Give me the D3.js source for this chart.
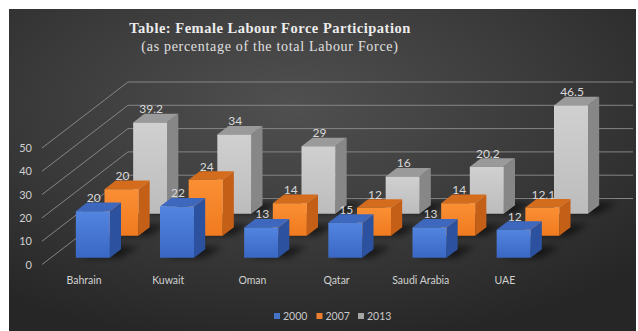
<!DOCTYPE html>
<html><head><meta charset="utf-8">
<script src="https://cdn.jsdelivr.net/npm/d3@7"></script>
<style>html,body{margin:0;padding:0;background:#fff;}svg{display:block;}</style>
</head><body>
<svg id="chart" width="638" height="331"></svg>
<script>
const categories = ["Bahrain", "Kuwait", "Oman", "Qatar", "Saudi Arabia", "UAE"];
const seriesNames = ["2000", "2007", "2013"];
const values2000 = [20, 22, 13, 15, 13, 12];
const values2007 = [20, 24, 14, 12, 14, 12.1];
const values2013 = [39.2, 34, 29, 16, 20.2, 46.5];
const valueLabels2000 = ["20", "22", "13", "15", "13", "12"];
const valueLabels2007 = ["20", "24", "14", "12", "14", "12.1"];
const valueLabels2013 = ["39.2", "34", "29", "16", "20.2", "46.5"];
const yTicks = [0, 10, 20, 30, 40, 50];

const series = [
  {name: seriesNames[0], vals: values2000, labels: valueLabels2000},
  {name: seriesNames[1], vals: values2007, labels: valueLabels2007},
  {name: seriesNames[2], vals: values2013, labels: valueLabels2013}
];
const palette = {
  "2000": {front: ["#5285e0", "#3a67c4"], side: "#2c519e", top: "#3e68be", key: "#4472c4"},
  "2007": {front: ["#fb8f34", "#f07a1f"], side: "#c45f17", top: "#d46c1e", key: "#ed7d31"},
  "2013": {front: ["#d0d0d0", "#bcbcbc"], side: "#878787", top: "#9a9a9a", key: "#a5a5a5"}
};

const svg = d3.select("#chart");
const defs = svg.append("defs");
const bg = defs.append("radialGradient").attr("id", "bg").attr("cx", "0.45").attr("cy", "0.3").attr("r", "0.75");
bg.append("stop").attr("offset", "0").attr("stop-color", "#505050");
bg.append("stop").attr("offset", "0.55").attr("stop-color", "#3a3a3a");
bg.append("stop").attr("offset", "1").attr("stop-color", "#262626");
defs.append("filter").attr("id", "blur").attr("x", "-50%").attr("y", "-50%").attr("width", "200%").attr("height", "200%")
  .append("feGaussianBlur").attr("stdDeviation", 3);
seriesNames.forEach((s, i) => {
  const g = defs.append("linearGradient").attr("id", "fg" + i).attr("x1", 0).attr("y1", 0).attr("x2", 0).attr("y2", 1);
  g.append("stop").attr("offset", 0).attr("stop-color", palette[s].front[0]);
  g.append("stop").attr("offset", 1).attr("stop-color", palette[s].front[1]);
});

svg.append("rect").attr("x", 9).attr("y", 9).attr("width", 627).attr("height", 322).attr("fill", "url(#bg)");

// geometry
const x0 = 42, x1 = 547, yBase = 264.5;
const depthVec = [86, -66];
const x = d3.scaleBand().domain(categories).range([x0, x1]);
const y = d3.scaleLinear().domain([0, 50]).range([0, 116.5]);
const z = d3.scaleBand().domain(seriesNames).range([0, 1]);
const barW = x.bandwidth() * 0.404;
const barD = 0.13;
const P = (px, v, d) => [px + d * depthVec[0], yBase - y(v) + d * depthVec[1]];

// gridlines
const grid = svg.append("g").attr("stroke", "#858585").attr("stroke-width", 1).attr("fill", "none");
yTicks.forEach(t => {
  const a = P(x0, t, 0), b = P(x0, t, 1), c = P(x1, t, 1);
  grid.append("polyline").attr("points", [a, b, c].map(p => p.join(",")).join(" "));
});

// y-axis labels
svg.append("g").selectAll("text").data(yTicks).join("text")
  .attr("x", 32).attr("y", t => P(x0, t, 0)[1] + 4)
  .attr("text-anchor", "end").attr("font-family", "Lato, 'Open Sans', sans-serif").attr("font-size", 11)
  .attr("fill", "#cfcfcf").text(t => t);

// bars, back row first
const rowsOrder = series.map((s, i) => ({...s, idx: i})).reverse();
rowsOrder.forEach(s => {
  const g = svg.append("g");
  const dF = z(s.name) + (z.bandwidth() - barD) / 2;
  const dB = dF + barD;
  const col = palette[s.name];
  // shadows
  categories.forEach((c, j) => {
    const xl = x(c) + (x.bandwidth() - barW) / 2, xr = xl + barW;
    const pts = [P(xl + 6, 0, dF), P(xr + 10, 0, dF), P(xr + 14, 0, dB + 0.04), P(xl + 10, 0, dB + 0.04)];
    g.append("polygon").attr("points", pts.map(p => p.join(",")).join(" "))
      .attr("fill", "#000").attr("opacity", 0.55).attr("filter", "url(#blur)");
  });
  categories.forEach((c, j) => {
    const v = s.vals[j];
    const xl = x(c) + (x.bandwidth() - barW) / 2, xr = xl + barW;
    const front = [P(xl, 0, dF), P(xr, 0, dF), P(xr, v, dF), P(xl, v, dF)];
    const side = [P(xr, 0, dF), P(xr, 0, dB), P(xr, v, dB), P(xr, v, dF)];
    const top = [P(xl, v, dF), P(xr, v, dF), P(xr, v, dB), P(xl, v, dB)];
    const str = a => a.map(p => p.join(",")).join(" ");
    g.append("polygon").attr("points", str(side)).attr("fill", col.side);
    g.append("polygon").attr("points", str(top)).attr("fill", col.top);
    g.append("polygon").attr("points", str(front)).attr("fill", "url(#fg" + s.idx + ")");
  });
  categories.forEach((c, j) => {
    const v = s.vals[j];
    const xc = x(c) + x.bandwidth() / 2 + 1;
    const p = P(xc, v, dB);
    const pf = P(xc, v, dF);
    g.append("text").attr("x", pf[0]).attr("y", p[1] - 0.5)
      .attr("text-anchor", "middle").attr("font-family", "Lato, 'Open Sans', sans-serif").attr("font-size", 12)
      .attr("fill", "#d9d9d9").text(s.labels[j]);
  });
});

// category labels
svg.append("g").selectAll("text").data(categories).join("text")
  .attr("x", c => x(c) + x.bandwidth() / 2).attr("y", 284)
  .attr("text-anchor", "middle").attr("font-family", "Lato, 'Open Sans', sans-serif").attr("font-size", 10.5)
  .attr("fill", "#d0d0d0").text(c => c);

// title
svg.append("text").attr("x", 270).attr("y", 33).attr("text-anchor", "middle")
  .attr("font-family", "'Liberation Serif', 'DejaVu Serif', serif").attr("font-weight", "bold")
  .attr("font-size", 14.5).attr("letter-spacing", 0.5).attr("fill", "#ececec")
  .text("Table: Female Labour Force Participation");
svg.append("text").attr("x", 270).attr("y", 51).attr("text-anchor", "middle")
  .attr("font-family", "'Liberation Serif', 'DejaVu Serif', serif")
  .attr("font-size", 14).attr("letter-spacing", 0.7).attr("fill", "#e0e0e0")
  .text("(as percentage of the total Labour Force)");

// legend
const legX = [274, 316.5, 358];
const leg = svg.append("g");
seriesNames.forEach((s, i) => {
  leg.append("rect").attr("x", legX[i]).attr("y", 313).attr("width", 6).attr("height", 6).attr("fill", palette[s].key);
  leg.append("text").attr("x", legX[i] + 9).attr("y", 320).attr("font-family", "Lato, 'Open Sans', sans-serif")
    .attr("font-size", 10.5).attr("fill", "#c8c8c8").text(s);
});
</script>
</body></html>
